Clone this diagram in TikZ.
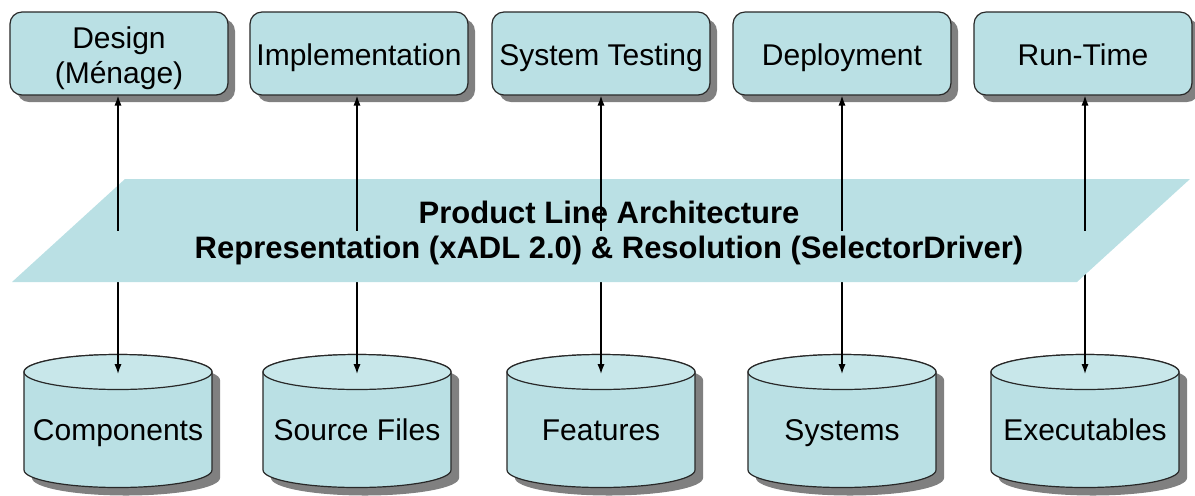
\documentclass[tikz,border=0pt]{standalone}
\usepackage{fontspec}
\setmainfont{Liberation Sans}
\usetikzlibrary{arrows.meta,shadows}
\definecolor{boxfill}{RGB}{186,224,228}
\definecolor{toplight}{RGB}{200,231,234}
\definecolor{shadowgray}{RGB}{128,128,128}
\definecolor{edgecol}{RGB}{40,40,40}
\tikzset{
  stagebox/.style={draw=edgecol, line width=0.6pt, fill=boxfill, rounded corners=6pt,
    minimum width=109pt, minimum height=41.5pt, align=center, inner sep=0pt,
    font=\fontsize{15}{17.5}\selectfont, text height=13pt, text depth=1.5pt,
    drop shadow={shadow xshift=3.5pt, shadow yshift=-3.5pt, fill=shadowgray, opacity=1}},
  twoline/.style={text height=32pt, text depth=2pt},
  cyltext/.style={inner sep=0pt, anchor=base, font=\fontsize{15}{17.5}\selectfont},
  pltext/.style={inner sep=0pt, align=center, font=\fontsize{15.5}{17.5}\selectfont\bfseries},
  conn/.style={line width=0.7pt, -{Latex[length=5pt,width=3.6pt]}},
  cylline/.style={draw=edgecol, line width=0.6pt}
}
\begin{document}
\begin{tikzpicture}[x=0.5pt,y=-0.5pt]
\useasboundingbox (0,0) rectangle (1195,495);
% stage boxes
\node[stagebox, twoline] (b1) at (119,53.5) {Design\\(Ménage)};
\node[stagebox] (b2) at (359,53.5) {Implementation};
\node[stagebox] (b3) at (601,53.5) {System Testing};
\node[stagebox] (b4) at (842,53.5) {Deployment};
\node[stagebox] (b5) at (1083,53.5) {Run-Time};
% cylinders
\foreach \cx/\i/\lab in {118/1/Components,357/2/Source Files,601/3/Features,842/4/Systems,1085/5/Executables}{
  \fill[shadowgray] (\cx-86,380) -- (\cx-86,478) arc[start angle=180,end angle=360,x radius=47pt,y radius=8.75pt]
     -- (\cx+102,380) arc[start angle=0,end angle=180,x radius=47pt,y radius=8.75pt] -- cycle;
  \filldraw[cylline, fill=boxfill] (\cx-94,372) -- (\cx-94,470) arc[start angle=180,end angle=360,x radius=47pt,y radius=8.75pt]
     -- (\cx+94,372) arc[start angle=0,end angle=180,x radius=47pt,y radius=8.75pt] -- cycle;
  \filldraw[cylline, fill=toplight] (\cx,372) ellipse [x radius=47pt, y radius=8.75pt];
  \node[cyltext] (c\i) at (\cx,440) {\lab};
  \coordinate (ct\i) at (\cx,374);
  \coordinate (u\i) at (\cx,230.5);
}
% lower connectors (hidden behind the band)
\foreach \i in {1,...,5}{
  \draw[conn] (u\i) -- (ct\i);
}
% band
\fill[boxfill] (125,179) -- (1190,179) -- (1077,282) -- (12,282) -- cycle;
\node[pltext] (pl) at (609,233) {Product Line Architecture\\Representation (xADL 2.0) \& Resolution (SelectorDriver)};
% upper connectors
\foreach \i in {1,...,5}{
  \draw[conn] (u\i) -- (u\i |- b\i.south);
}
\end{tikzpicture}
\end{document}
